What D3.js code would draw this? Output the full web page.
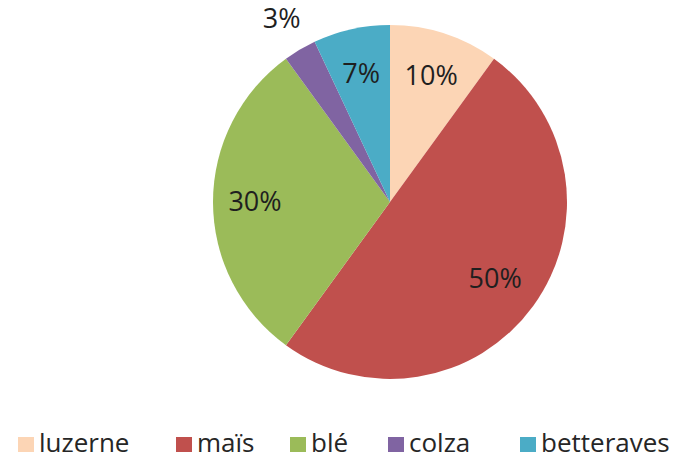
<!DOCTYPE html>
<html><head><meta charset="utf-8">
<script src="https://cdn.jsdelivr.net/npm/d3@7"></script>
<style>body{margin:0;background:#fff}svg{display:block}</style>
</head><body><svg id="c" width="684" height="459"></svg>
<script>
const categories = ["luzerne", "maïs", "blé", "colza", "betteraves"];
const values = [10, 50, 30, 3, 7];
const labels = ["10%", "50%", "30%", "3%", "7%"];
const colors = ["#FCD5B5", "#C0504D", "#9BBB59", "#8064A2", "#4BACC6"];

const svg = d3.select("#c");
const cx = 390, cy = 202, r = 177;
const font = "'Open Sans', sans-serif";
const pie = d3.pie().sort(null).value(d => d)(values);
const arc = d3.arc().innerRadius(0).outerRadius(r);
const g = svg.append("g").attr("transform", `translate(${cx},${cy})`);
g.selectAll("path").data(pie).join("path")
  .attr("d", arc).attr("fill", (d, i) => colors[i]);

const labelR = [133, 130, 135, 213, 132];
g.selectAll("text").data(pie).join("text")
  .attr("transform", (d, i) => {
    const a = (d.startAngle + d.endAngle) / 2;
    return `translate(${Math.sin(a) * labelR[i]},${-Math.cos(a) * labelR[i]})`;
  })
  .attr("text-anchor", "middle").attr("dy", "0.35em")
  .attr("font-family", font).attr("font-size", 27).attr("fill", "#1f1f1f")
  .text((d, i) => labels[i]);

const legX = [18, 176, 290, 388, 520];
const lg = svg.append("g");
categories.forEach((c, i) => {
  lg.append("rect").attr("x", legX[i]).attr("y", 437).attr("width", 16).attr("height", 15).attr("fill", colors[i]);
  lg.append("text").attr("x", legX[i] + 21).attr("y", 452)
    .attr("font-family", font).attr("font-size", 26).attr("fill", "#262626").text(c);
});
</script></body></html>
